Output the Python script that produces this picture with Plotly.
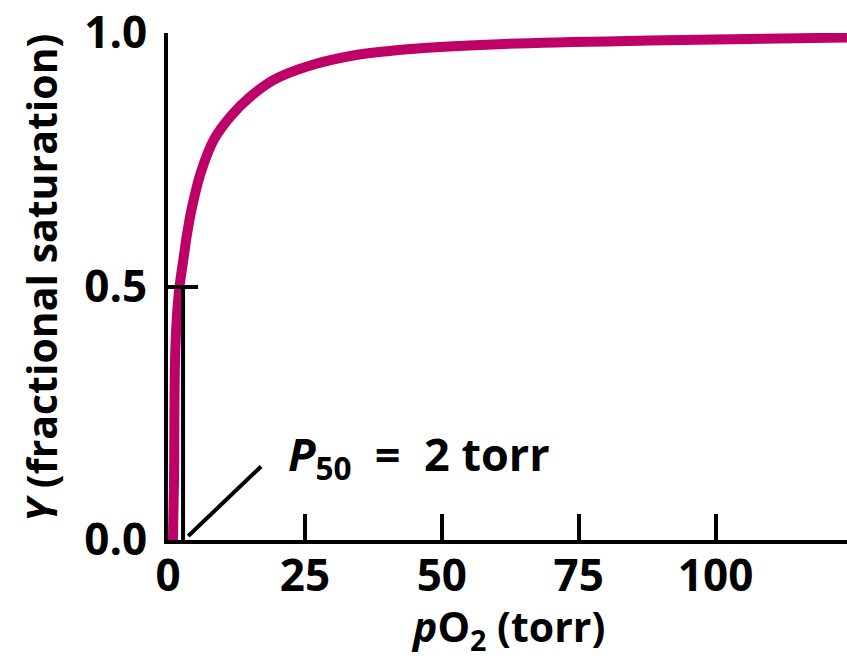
import plotly.graph_objects as go

# Binding curve
po2 = [0.9, 1.1, 1.35, 2.0, 2.9, 3.5, 4.44, 5.97, 8.4, 11.45, 15.1, 19.4, 25.4, 34.6, 46.1, 60.4, 87.9, 124]
sat = [0.0, 0.12, 0.38, 0.49, 0.56, 0.605, 0.659, 0.724, 0.79, 0.836, 0.875, 0.908, 0.934, 0.957, 0.970, 0.978, 0.985, 0.991]

# P50 marker and leader line
p50_x = [2.75, 2.75]
p50_y = [0.0, 0.5]
leader_x = [3.7, 17.0]
leader_y = [0.008, 0.145]
label_x = 21.5
label_y = 0.165

x_ticks = [0, 25, 50, 75, 100]
x_ticklabels = ["0", "25", "50", "75", "100"]
y_ticks = [0.0, 0.5, 1.0]
y_ticklabels = ["0.0", "0.5", "1.0"]

FONT = "Open Sans"
CURVE = "#BE0069"

fig = go.Figure()
fig.add_trace(go.Scatter(x=po2, y=sat, mode="lines",
                         line=dict(color=CURVE, width=10, shape="spline", smoothing=1.0),
                         hoverinfo="skip"))
fig.add_trace(go.Scatter(x=p50_x, y=p50_y, mode="lines",
                         line=dict(color="black", width=4), hoverinfo="skip"))
fig.add_trace(go.Scatter(x=leader_x, y=leader_y, mode="lines",
                         line=dict(color="black", width=4), hoverinfo="skip"))

fig.add_annotation(x=label_x, y=label_y, xref="x", yref="y",
                   text="<b><i>P</i><sub>50</sub>  =  2 torr</b>",
                   showarrow=False, xanchor="left", yanchor="middle",
                   font=dict(family=FONT, size=45, color="black"))

# axis titles as annotations (paper coordinates)
fig.add_annotation(x=-0.187, y=0.517, xref="paper", yref="paper",
                   text="<b><i>Y</i> (fractional saturation)</b>", textangle=-90,
                   showarrow=False, xanchor="center", yanchor="middle",
                   font=dict(family=FONT, size=41, color="black"))
fig.add_annotation(x=0.5, y=-0.175, xref="paper", yref="paper",
                   text="<b><i>p</i>O<sub>2</sub> (torr)</b>",
                   showarrow=False, xanchor="center", yanchor="middle",
                   font=dict(family=FONT, size=41, color="black"))

fig.update_layout(
    width=847, height=658,
    margin=dict(l=168, r=0, t=33, b=118, autoexpand=False),
    paper_bgcolor="white", plot_bgcolor="white",
    showlegend=False,
    font=dict(family=FONT, color="black"),
    xaxis=dict(range=[0, 124], tickvals=x_ticks, ticktext=[f"<b>{t}</b>" for t in x_ticklabels],
               ticks="inside", ticklen=26, tickwidth=4, tickcolor="black",
               showline=True, linewidth=4, linecolor="black",
               showgrid=False, zeroline=False, automargin=False,
               tickfont=dict(family=FONT, size=44, color="black"),
               ticklabelstandoff=-6),
    yaxis=dict(range=[0, 1], tickvals=y_ticks, ticktext=[f"<b>{t}</b>" for t in y_ticklabels],
               ticks="inside", ticklen=30, tickwidth=4, tickcolor="black",
               showline=True, linewidth=4, linecolor="black",
               showgrid=False, zeroline=False, automargin=False,
               tickfont=dict(family=FONT, size=44, color="black"),
               ticklabelstandoff=8),
)

fig.write_html("out.html", config={"displayModeBar": False},
               post_script="document.body.style.margin='0px';document.body.style.overflow='hidden';")
